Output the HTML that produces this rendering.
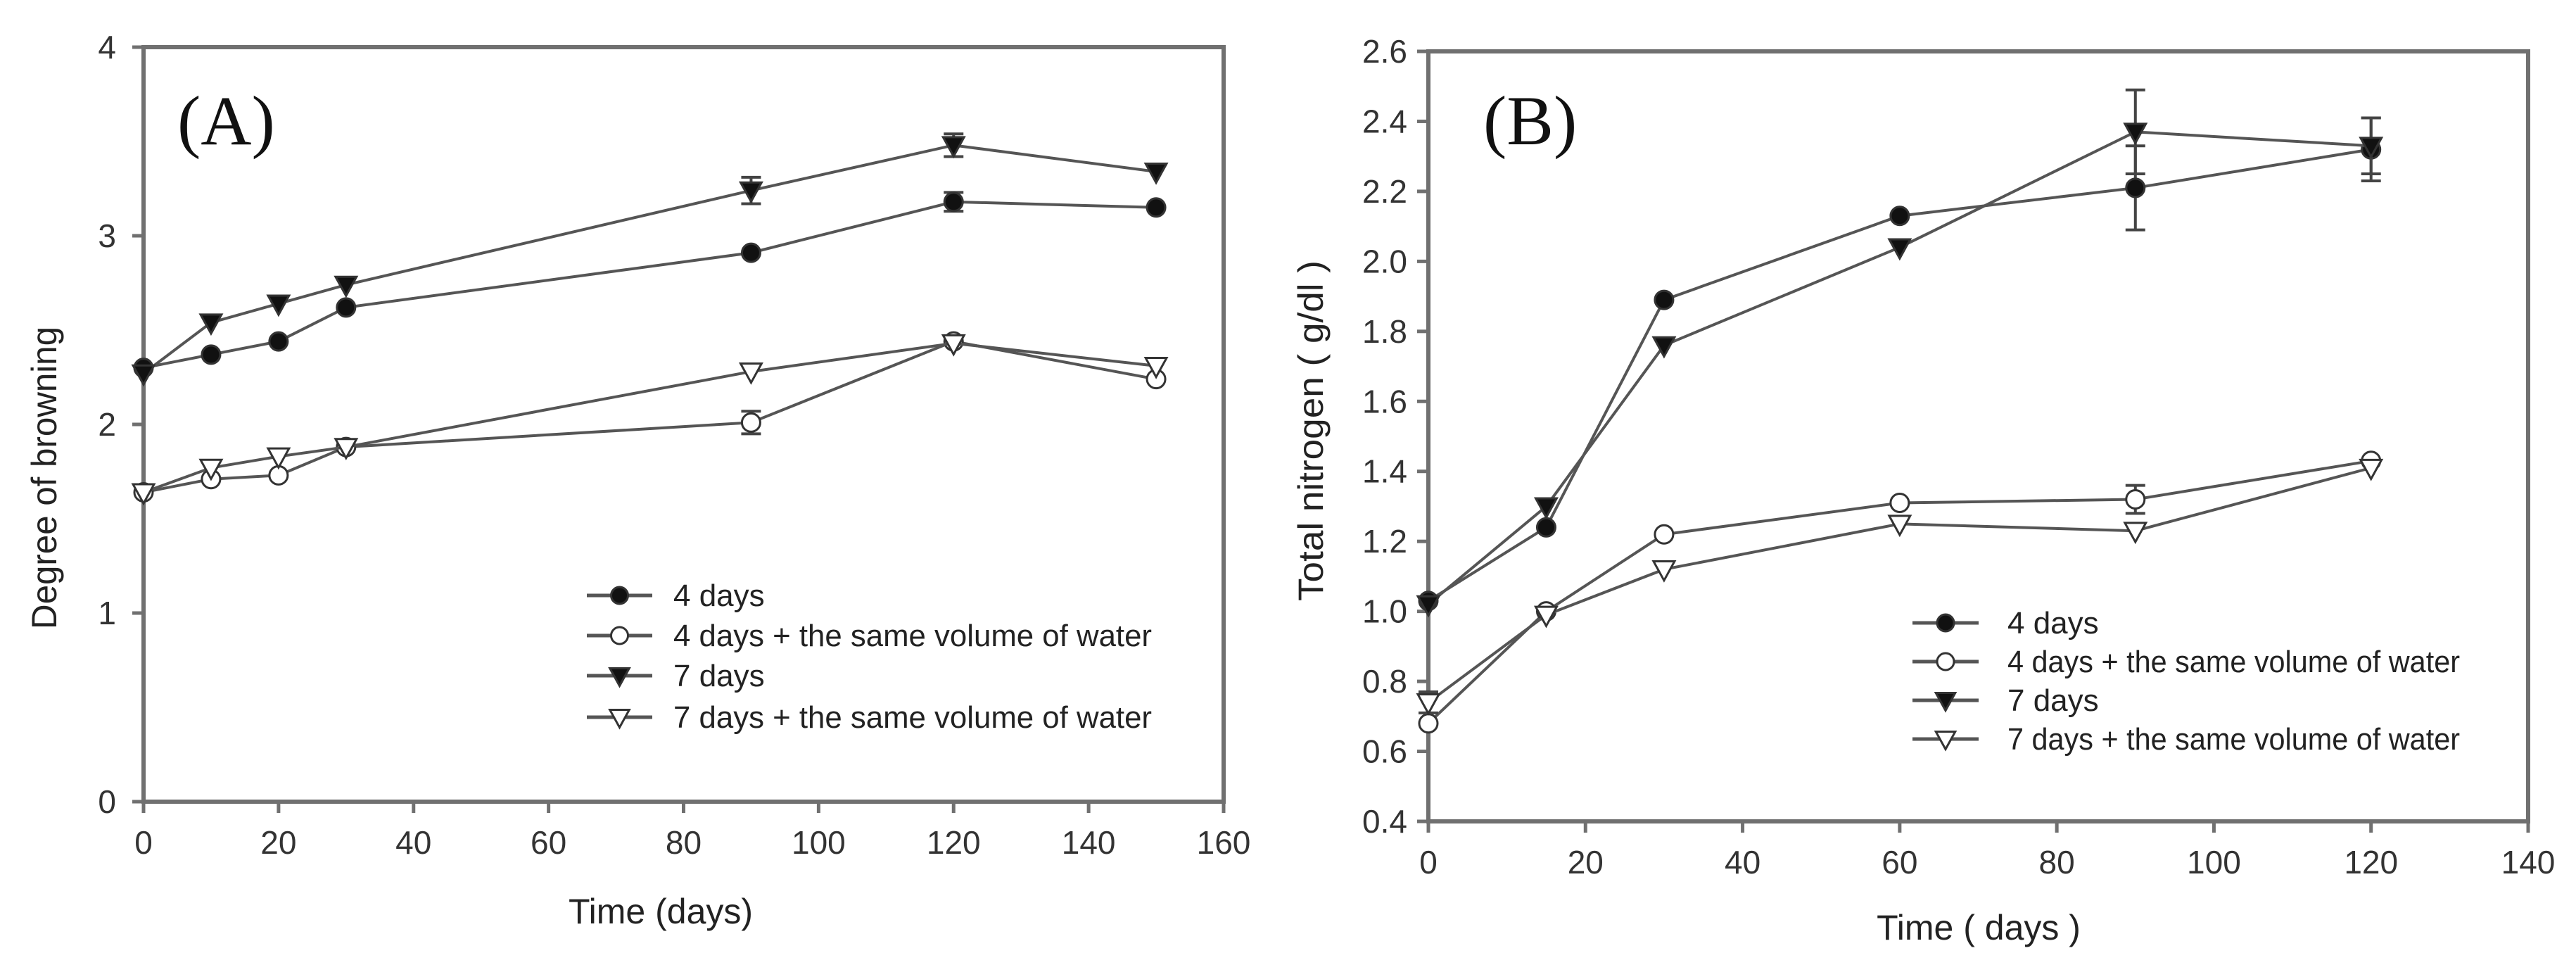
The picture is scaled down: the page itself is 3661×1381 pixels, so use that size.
<!DOCTYPE html>
<html><head><meta charset="utf-8"><style>
html,body{margin:0;padding:0;background:#fff;}
svg{display:block;font-family:"Liberation Sans",sans-serif;}
</style></head><body>
<svg id="root" width="3661" height="1381" viewBox="0 0 3661 1381" xmlns="http://www.w3.org/2000/svg">
<g id="panelA"></g>
<g id="panelB"></g>
</svg>
<script>
// Panel A data
const aDays = [0, 10, 20, 30, 90, 120, 150];
const a4d = [2.30, 2.37, 2.44, 2.62, 2.91, 3.18, 3.15];
const a4dw = [1.64, 1.71, 1.73, 1.88, 2.01, 2.44, 2.24];
const a7d = [2.27, 2.54, 2.64, 2.74, 3.24, 3.48, 3.34];
const a7dw = [1.64, 1.77, 1.83, 1.88, 2.28, 2.43, 2.31];
const a4dErr = [0, 0, 0, 0, 0, 0.05, 0];
const a4dwErr = [0, 0, 0, 0, 0.06, 0, 0];
const a7dErr = [0, 0, 0, 0, 0.07, 0.06, 0];
const a7dwErr = [0, 0, 0, 0, 0, 0, 0];
const aXTicks = ["0","20","40","60","80","100","120","140","160"];
const aYTicks = ["0","1","2","3","4"];
// Panel B data
const bDays = [0, 15, 30, 60, 90, 120];
const b4d = [1.03, 1.24, 1.89, 2.13, 2.21, 2.32];
const b4dw = [0.68, 1.00, 1.22, 1.31, 1.32, 1.43];
const b7d = [1.02, 1.30, 1.76, 2.04, 2.37, 2.33];
const b7dw = [0.74, 0.99, 1.12, 1.25, 1.23, 1.41];
const b4dErr = [0, 0, 0, 0, 0.12, 0.09];
const b4dwErr = [0, 0, 0, 0, 0.04, 0];
const b7dErr = [0, 0, 0, 0, 0.12, 0.08];
const b7dwErr = [0.03, 0, 0, 0, 0, 0];
const bXTicks = ["0","20","40","60","80","100","120","140"];
const bYTicks = ["0.4","0.6","0.8","1.0","1.2","1.4","1.6","1.8","2.0","2.2","2.4","2.6"];
const legendLabels = ["4 days","4 days + the same volume of water","7 days","7 days + the same volume of water"];

const NS = "http://www.w3.org/2000/svg";
function mk(parent, tag, attrs, text){
  const e = document.createElementNS(NS, tag);
  for (const k in attrs) e.setAttribute(k, attrs[k]);
  if (text !== undefined) e.textContent = text;
  parent.appendChild(e);
  return e;
}
const LINE = "#555";
const AXIS = "#707070";

function marker(g, type, x, y, r){
  let m;
  if (type === 0 || type === 1){
    m = mk(g, "circle", {cx:x, cy:y, r:r, fill: type===0?"#111":"#fff", stroke:"#333", "stroke-width":3});
  } else {
    const h = r*1.1;
    m = mk(g, "polygon", {points:`${x-r*1.15},${y-h*0.8} ${x+r*1.15},${y-h*0.8} ${x},${y+h*1.1}`, fill: type===2?"#111":"#fff", stroke:"#333", "stroke-width":3});
  }
  return m;
}

function drawPanel(cfg){
  const g = document.getElementById(cfg.id);
  const sx = v => cfg.L + (v - cfg.xmin)/(cfg.xmax - cfg.xmin)*(cfg.R - cfg.L);
  const sy = v => cfg.B - (v - cfg.ymin)/(cfg.ymax - cfg.ymin)*(cfg.B - cfg.T);
  // frame
  const frame = mk(g, "rect", {x:cfg.L, y:cfg.T, width:cfg.R-cfg.L, height:cfg.B-cfg.T, fill:"none", stroke:AXIS, "stroke-width":6});
  
  
  // x ticks
  cfg.xTicks.forEach(t => {
    const v = parseFloat(t), x = sx(v);
    const tk = mk(g, "line", {x1:x, x2:x, y1:cfg.B, y2:cfg.B+16, stroke:AXIS, "stroke-width":5});
    
    
    const tl = mk(g, "text", {x:x, y:cfg.xLabY, "text-anchor":"middle", "font-size":46, fill:"#333"}, t);
    
    
  });
  cfg.yTicks.forEach(t => {
    const v = parseFloat(t), y = sy(v);
    const tk = mk(g, "line", {x1:cfg.L-16, x2:cfg.L, y1:y, y2:y, stroke:AXIS, "stroke-width":5});
    
    
    const tl = mk(g, "text", {x:cfg.yLabX, y:y+16, "text-anchor":"end", "font-size":46, fill:"#333"}, t);
    
    
  });
  // axis titles
  const xt = mk(g, "text", {x:cfg.xTitleX, y:cfg.xTitleY, "text-anchor":"middle", "font-size":50, fill:"#222"}, cfg.xTitle);
  
  
  const yt = mk(g, "text", {x:0, y:0, "text-anchor":"middle", "font-size":50, fill:"#222", transform:`translate(${cfg.yTitleX},${cfg.yTitleY}) rotate(-90)`, textLength:cfg.yTitleLen, lengthAdjust:"spacingAndGlyphs"}, cfg.yTitle);
  
  
  const pl = mk(g, "text", {x:cfg.panelX, y:cfg.panelY, "font-size":100, fill:"#111", "font-family":"Liberation Serif, serif"}, cfg.panelLabel);
  
  
  // series
  const names = ["series-4-days","series-4-days-water","series-7-days","series-7-days-water"];
  cfg.series.forEach((s, i) => {
    const sg = mk(g, "g", {});
    
    
    const pts = s.map((v, j) => `${sx(cfg.days[j])},${sy(v)}`).join(" ");
    const pline = mk(sg, "polyline", {points:pts, fill:"none", stroke:LINE, "stroke-width":4});
    
    
    s.forEach((v, j) => {
      const e = cfg.errs[i][j];
      if (e > 0){
        const x = sx(cfg.days[j]), y1 = sy(v+e), y2 = sy(v-e);
        const eb = mk(sg, "path", {d:`M${x},${y1}V${y2}M${x-14},${y1}H${x+14}M${x-14},${y2}H${x+14}`, stroke:"#444", "stroke-width":4, fill:"none"});
        
        
      }
    });
    s.forEach((v, j) => {
      const m = marker(sg, i, sx(cfg.days[j]), sy(v), 13);
      
      
    });
  });
  // legend
  const lg = mk(g, "g", {});
  
  
  legendLabels.forEach((lab, i) => {
    const y = cfg.legY[i];
    const le = mk(lg, "g", {});
    
    
    mk(le, "line", {x1:cfg.legX1, x2:cfg.legX2, y1:y, y2:y, stroke:LINE, "stroke-width":5});
    marker(le, i, (cfg.legX1+cfg.legX2)/2, y, 12);
    const attrs = {x:cfg.legTX, y:y+15, "font-size":44, fill:"#222"};
    if (lab.length > 10){ attrs.textLength = cfg.legTLen; attrs.lengthAdjust = "spacingAndGlyphs"; }
    mk(le, "text", attrs, lab);
  });
}

drawPanel({id:"panelA", L:204, R:1739, T:67, B:1139, xmin:0, xmax:160, ymin:0, ymax:4,
  xTicks:aXTicks, yTicks:aYTicks, xLabY:1213, yLabX:165,
  xTitle:"Time (days)", xTitleX:939, xTitleY:1312,
  yTitle:"Degree of browning", yTitleX:80, yTitleY:679, yTitleLen:430,
  panelLabel:"(A)", panelX:252, panelY:205,
  days:aDays, series:[a4d,a4dw,a7d,a7dw], errs:[a4dErr,a4dwErr,a7dErr,a7dwErr],
  legY:[846,903,960,1019], legX1:834, legX2:927, legTX:957, legTLen:680});

drawPanel({id:"panelB", L:2030, R:3593, T:73, B:1167, xmin:0, xmax:140, ymin:0.4, ymax:2.6,
  xTicks:bXTicks, yTicks:bYTicks, xLabY:1241, yLabX:2000,
  xTitle:"Time ( days )", xTitleX:2812, xTitleY:1335,
  yTitle:"Total nitrogen ( g/dl )", yTitleX:1880, yTitleY:612, yTitleLen:484,
  panelLabel:"(B)", panelX:2108, panelY:205,
  days:bDays, series:[b4d,b4dw,b7d,b7dw], errs:[b4dErr,b4dwErr,b7dErr,b7dwErr],
  legY:[885,940,995,1050], legX1:2718, legX2:2812, legTX:2853, legTLen:643});
</script>
</body></html>
